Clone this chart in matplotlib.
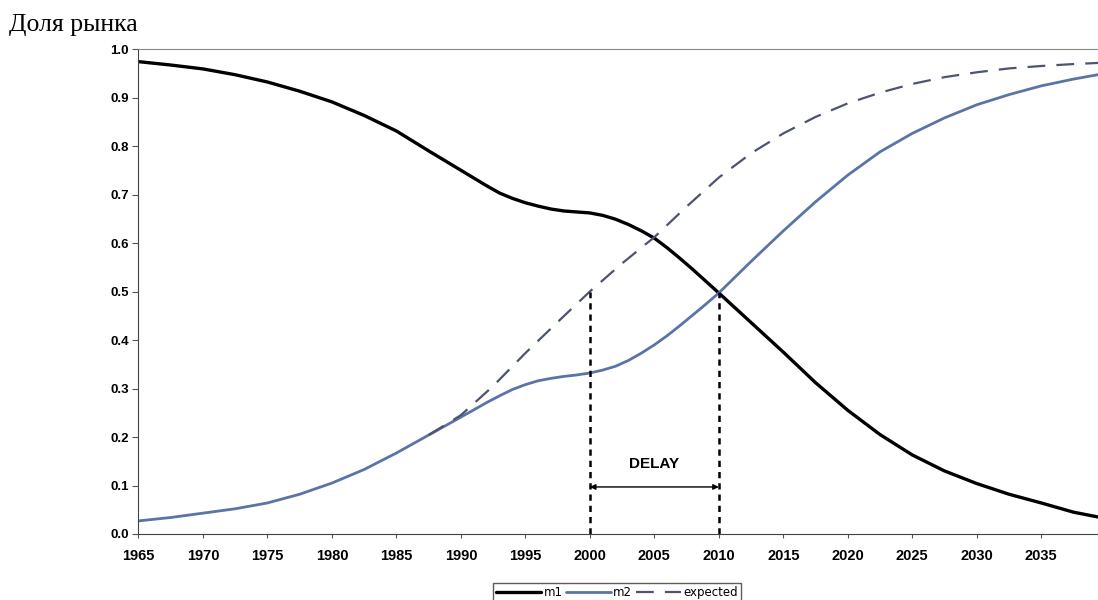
import numpy as np
import matplotlib.pyplot as plt

# годы: шаг 2.5, в районе "задержки" - каждый год
years = [1965, 1967.5, 1970, 1972.5, 1975, 1977.5, 1980, 1982.5, 1985, 1987.5,
         1990, 1991, 1992, 1993, 1994, 1995, 1996, 1997, 1998, 1999,
         2000, 2001, 2002, 2003, 2004, 2005, 2006, 2007, 2008, 2009,
         2010, 2012.5, 2015, 2017.5, 2020, 2022.5, 2025, 2027.5, 2030, 2032.5,
         2035, 2037.5, 2040]

m1 = [0.974, 0.967, 0.959, 0.947, 0.932, 0.913, 0.891, 0.863, 0.831, 0.790,
      0.750, 0.734, 0.718, 0.703, 0.692, 0.683, 0.676, 0.670, 0.666, 0.664,
      0.662, 0.657, 0.649, 0.638, 0.625, 0.610, 0.590, 0.568, 0.545, 0.521,
      0.497, 0.436, 0.375, 0.312, 0.255, 0.205, 0.163, 0.130, 0.104, 0.082,
      0.064, 0.045, 0.032]
m2 = [0.027, 0.034, 0.043, 0.052, 0.064, 0.082, 0.105, 0.133, 0.167, 0.204,
      0.241, 0.256, 0.271, 0.285, 0.298, 0.308, 0.316, 0.321, 0.325, 0.328,
      0.332, 0.338, 0.346, 0.358, 0.373, 0.390, 0.409, 0.430, 0.452, 0.474,
      0.497, 0.562, 0.625, 0.685, 0.740, 0.788, 0.826, 0.858, 0.885, 0.906,
      0.924, 0.938, 0.950]
exp_years = [1987.5, 1990, 1992.5, 1995, 1997.5, 2000, 2002.5, 2005, 2007.5,
             2010, 2012.5, 2015, 2017.5, 2020, 2022.5, 2025, 2027.5, 2030,
             2032.5, 2035, 2037.5, 2040]
expected = [0.204, 0.245, 0.305, 0.373, 0.437, 0.500, 0.558, 0.612, 0.675,
            0.735, 0.785, 0.826, 0.860, 0.888, 0.910, 0.928, 0.942, 0.952,
            0.960, 0.965, 0.969, 0.972]

delay_start, delay_end = 2000, 2010
delay_level = 0.5

fig = plt.figure(figsize=(10.98, 6), dpi=100)
ax = fig.add_axes([0.1261, 0.11, 0.8739, 0.8083])

l1, = ax.plot(years, m1, color="black", lw=2.4, solid_capstyle="round",
              solid_joinstyle="round")
l2, = ax.plot(years, m2, color="#5a74a8", lw=2.0, solid_capstyle="round",
              solid_joinstyle="round")
l3, = ax.plot(exp_years, expected, color="#4c5470", lw=1.6, dashes=(8, 5))

for x in (delay_start, delay_end):
    ax.plot([x, x], [0, delay_level], color="black", lw=1.8, dashes=(2.5, 2))

ax.annotate("", xy=(delay_end, 0.097), xytext=(delay_start, 0.097),
            arrowprops=dict(arrowstyle="<|-|>", color="black", lw=1.0,
                            mutation_scale=8, shrinkA=0, shrinkB=0))
ax.text(2005, 0.145, "DELAY", ha="center", va="center", fontsize=11,
        fontweight="bold", family="Liberation Sans")

ax.set_xlim(1965, 2039.4)
ax.set_ylim(0, 1.0)
ax.set_xticks(np.arange(1965, 2036, 5))
ax.set_yticks(np.arange(0, 1.01, 0.1))
ax.set_yticklabels([f"{v:.1f}" for v in np.arange(0, 1.01, 0.1)])
for lab in ax.get_xticklabels():
    lab.set_fontsize(10.5)
    lab.set_fontweight("bold")
    lab.set_family("Liberation Sans")
for lab in ax.get_yticklabels():
    lab.set_fontsize(9.5)
    lab.set_fontweight("bold")
    lab.set_family("Liberation Sans")
ax.tick_params(axis="x", length=3, pad=8, color="#555555")
ax.tick_params(axis="y", length=4, pad=3, color="#555555")

ax.spines["right"].set_visible(False)
ax.spines["left"].set_color("#444444")
ax.spines["bottom"].set_color("#444444")
ax.spines["top"].set_color("#888888")

fig.text(0.008, 0.948, "Доля рынка", fontsize=18.5, family="Liberation Serif")

leg = fig.legend([l1, l2, l3], ["m1", "m2", "expected"], loc="upper center",
                 bbox_to_anchor=(0.562, 0.039), ncol=3, fontsize=8.5,
                 handlelength=3.8, columnspacing=0.3, handletextpad=0.2,
                 frameon=True, fancybox=False, borderpad=0.3)
leg.get_frame().set_edgecolor("#333333")
leg.get_frame().set_linewidth(1.0)

fig.savefig("out.png", dpi=100)
